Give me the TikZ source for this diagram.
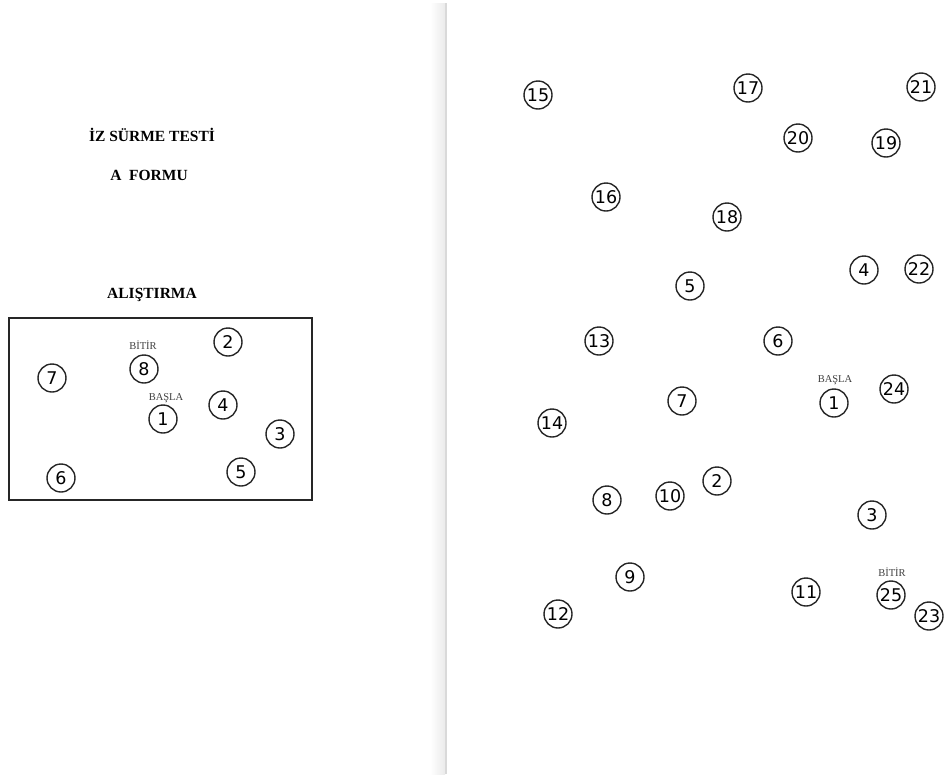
\documentclass[tikz,border=0pt]{standalone}
\usepackage{fontspec}
\setmainfont{Liberation Serif}
\newfontfamily\numfont{DejaVu Sans}
\usetikzlibrary{positioning}
\tikzset{
  dot/.style={circle, draw=black!85, line width=1.4pt, minimum size=28pt,
    inner sep=0pt, font=\numfont\fontsize{17.5}{17.5}\selectfont},
  marklab/.style={font=\fontsize{10.5}{11}\selectfont, text=black!75, inner sep=0pt},
  titlelab/.style={font=\bfseries\fontsize{15.5}{17}\selectfont, inner sep=0pt},
}
\begin{document}
\begin{tikzpicture}[x=1pt, y=-1pt]
\useasboundingbox (0,0) rectangle (947,774);
% page divider
\shade[left color=white, right color=black!8] (430,3) rectangle (445,774);
\draw[black!15, line width=2pt] (446,3) -- (446,774);
% headings
\node[titlelab] (title) at (152,135) {İZ SÜRME TESTİ};
\node[titlelab] (form) at (149,175) {A\ \ FORMU};
\node[titlelab] (drill) at (152,295) {ALIŞTIRMA};
% practice box
\draw[black!85, line width=1.3pt] (9,318) rectangle (312,500);
\foreach \n/\x/\y in {1/163/419, 2/228/342, 3/280/434, 4/223/405,
                      5/241/472, 6/61/478, 7/52/378, 8/144/369}
  \node[dot] (p\n) at (\x,\y) {\n};
\node[marklab] (pstart) at (166,398) {BAŞLA};
\node[marklab] (pend) at (143,345) {BİTİR};
% test sheet
\foreach \n/\x/\y in {1/834/403, 2/717/481, 3/872/515, 4/864/270,
                      5/690/286, 6/778/341, 7/682/401, 8/607/500,
                      9/630/577, 10/670/496, 11/806/592, 12/558/614,
                      13/599/341, 14/552/423, 15/538/95, 16/606/197,
                      17/748/88, 18/727/217, 19/886/143, 20/798/138,
                      21/921/87, 22/919/269, 23/929/616, 24/894/389,
                      25/891/595}
  \node[dot] (t\n) at (\x,\y) {\n};
\node[marklab] (tstart) at (835,380) {BAŞLA};
\node[marklab] (tend) at (892,572) {BİTİR};
\end{tikzpicture}
\end{document}
